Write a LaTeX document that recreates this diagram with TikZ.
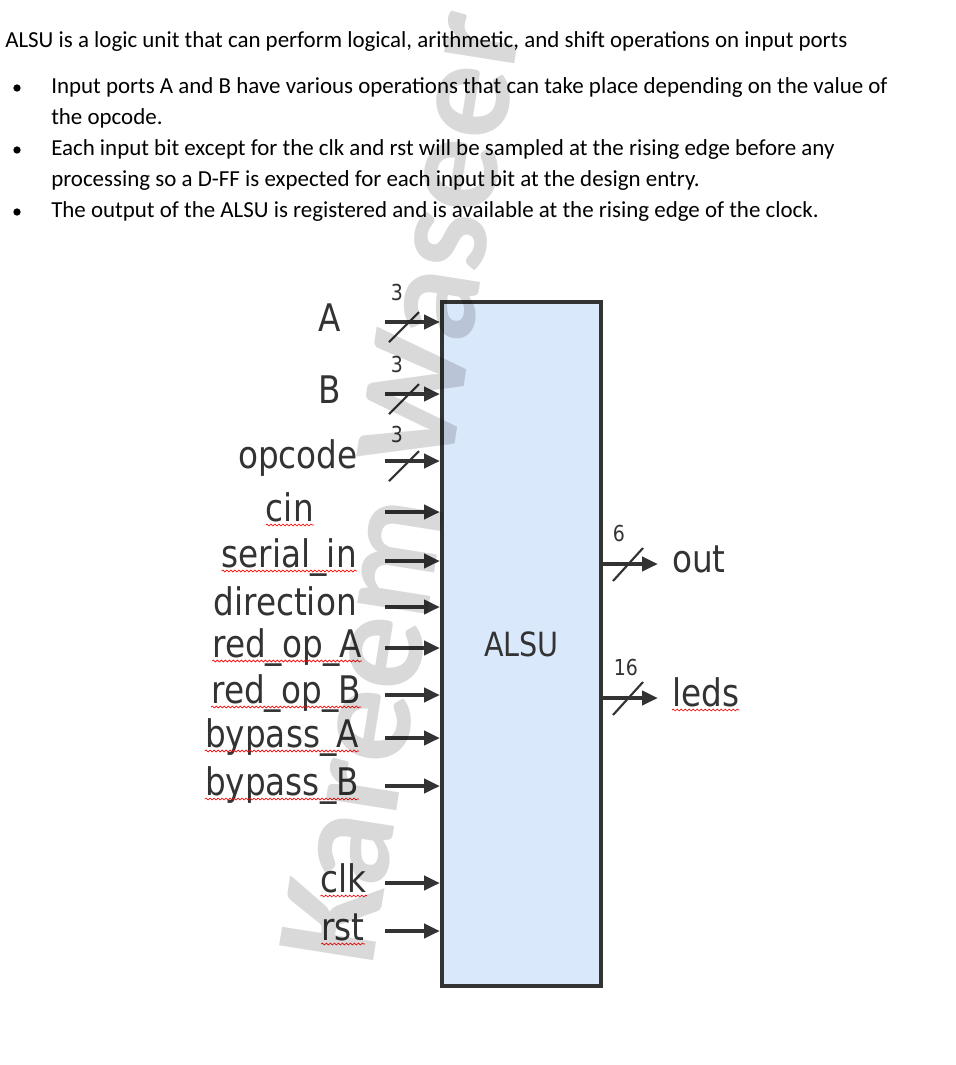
\documentclass[tikz,border=0pt]{standalone}
\usepackage{fontspec}
\setmainfont{Carlito}
\newfontfamily\diafont[FakeStretch=0.86]{DejaVu Sans}
\usetikzlibrary{positioning,calc,arrows.meta,decorations.pathmorphing}
\definecolor{boxblue}{HTML}{DAE8FC}
\definecolor{wire}{HTML}{333333}

\begin{document}
\begin{tikzpicture}[
    x=0.75pt, y=-0.75pt,
    txt/.style={font=\fontsize{17.2}{20}\selectfont, inner sep=0pt, anchor=base west},
    dot/.style={circle, fill=black, inner sep=0pt, minimum size=5.5pt},
    port/.style={font=\diafont\fontsize{28.5}{30}\selectfont, text=wire, inner sep=0pt, anchor=base east},
    buswd/.style={font=\diafont\fontsize{16.5}{18}\selectfont, text=wire, inner sep=0pt},
    sig/.style={-{Triangle[length=12pt, width=10.5pt]}, line width=3.2pt, draw=wire},
    bus/.style={line width=1.6pt, draw=wire},
    squig/.style={draw=red, line width=0.5pt, decorate, decoration={snake, amplitude=0.7pt, segment length=3pt}},
    wmtext/.style={font=\bfseries\fontsize{110}{110}\selectfont, text=black, text opacity=0.15, inner sep=0pt, anchor=base west, rotate=81}
]
\useasboundingbox (0,0) rectangle (956,1065);

% description
\node[txt] (intro) at (5,47) {ALSU is a logic unit that can perform logical, arithmetic, and shift operations on input ports};
\node[dot] (dot1) at (17,88) {};
\node[txt] (item1) at (51,93) {Input ports A and B have various operations that can take place depending on the value of};
\node[txt] (item1b) at (51,124) {the opcode.};
\node[dot] (dot2) at (17,150) {};
\node[txt] (item2) at (51,155) {Each input bit except for the clk and rst will be sampled at the rising edge before any};
\node[txt] (item2b) at (51,186) {processing so a D-FF is expected for each input bit at the design entry.};
\node[dot] (dot3) at (17,212) {};
\node[txt] (item3) at (51,217) {The output of the ALSU is registered and is available at the rising edge of the clock.};

% the block
\node[draw=wire, line width=3pt, fill=boxblue, minimum width=119.25pt, minimum height=513pt, inner sep=0pt,
      font=\diafont\fontsize{25}{26}\selectfont, text=wire] (alsu) at (521.5,644) {ALSU};

% bus inputs
\coordinate (inA) at (385,322);
\node[port] (lA) at (341,331) {A};
\draw[sig] (inA) -- (inA -| alsu.west);
\draw[bus] ($(inA)+(4,20)$) -- ($(inA)+(34,-10)$);
\node[buswd] (wA) at ($(inA)+(12,-30)$) {3};

\coordinate (inB) at (385,394);
\node[port] (lB) at (341,403) {B};
\draw[sig] (inB) -- (inB -| alsu.west);
\draw[bus] ($(inB)+(4,20)$) -- ($(inB)+(34,-10)$);
\node[buswd] (wB) at ($(inB)+(12,-30)$) {3};

\coordinate (inOp) at (385,461);
\node[port] (lOp) at (358,468) {opcode};
\draw[sig] (inOp) -- (inOp -| alsu.west);
\draw[bus] ($(inOp)+(4,20)$) -- ($(inOp)+(34,-10)$);
\node[buswd] (wOp) at ($(inOp)+(12,-27)$) {3};

% single bit inputs
\coordinate (inCin) at (385,512);
\node[port] (lCin) at (314,521) {cin};
\draw[sig] (inCin) -- (inCin -| alsu.west);

\coordinate (inSer) at (385,561);
\node[port] (lSer) at (357,567) {serial\_in};
\draw[sig] (inSer) -- (inSer -| alsu.west);

\coordinate (inDir) at (385,607);
\node[port] (lDir) at (357,615) {direction};
\draw[sig] (inDir) -- (inDir -| alsu.west);

\coordinate (inRedA) at (385,648);
\node[port] (lRedA) at (362,657) {red\_op\_A};
\draw[sig] (inRedA) -- (inRedA -| alsu.west);

\coordinate (inRedB) at (385,695);
\node[port] (lRedB) at (361,703) {red\_op\_B};
\draw[sig] (inRedB) -- (inRedB -| alsu.west);

\coordinate (inByA) at (385,738);
\node[port] (lByA) at (359,747) {bypass\_A};
\draw[sig] (inByA) -- (inByA -| alsu.west);

\coordinate (inByB) at (385,786);
\node[port] (lByB) at (359,795) {bypass\_B};
\draw[sig] (inByB) -- (inByB -| alsu.west);

\coordinate (inClk) at (385,883);
\node[port] (lClk) at (367,892) {clk};
\draw[sig] (inClk) -- (inClk -| alsu.west);

\coordinate (inRst) at (385,931);
\node[port] (lRst) at (365,940) {rst};
\draw[sig] (inRst) -- (inRst -| alsu.west);

% outputs
\coordinate (outTip) at (658,564);
\draw[sig] (outTip -| alsu.east) -- (outTip);
\draw[bus] ($(outTip)+(-45,17)$) -- ($(outTip)+(-15,-16)$);
\node[buswd] (wOut) at ($(outTip)+(-39,-31)$) {6};
\node[port, anchor=base west] (lOut) at (672,572) {out};

\coordinate (ledTip) at (658,698);
\draw[sig] (ledTip -| alsu.east) -- (ledTip);
\draw[bus] ($(ledTip)+(-45,17)$) -- ($(ledTip)+(-15,-16)$);
\node[buswd] (wLed) at ($(ledTip)+(-32,-31)$) {16};
\node[port, anchor=base west] (lLed) at (672,706) {leds};

% spell check marks
\draw[squig] ([yshift=-3pt]lCin.base west) -- ([yshift=-3pt]lCin.base east);
\draw[squig] ([yshift=-3pt]lSer.base west) -- ([yshift=-3pt]lSer.base east);
\draw[squig] ([yshift=-3pt]lRedA.base west) -- ([yshift=-3pt]lRedA.base east);
\draw[squig] ([yshift=-3pt]lRedB.base west) -- ([yshift=-3pt]lRedB.base east);
\draw[squig] ([yshift=-3pt]lByA.base west) -- ([yshift=-3pt]lByA.base east);
\draw[squig] ([yshift=-3pt]lByB.base west) -- ([yshift=-3pt]lByB.base east);
\draw[squig] ([yshift=-3pt]lClk.base west) -- ([yshift=-3pt]lClk.base east);
\draw[squig] ([yshift=-3pt]lRst.base west) -- ([yshift=-3pt]lRst.base east);
\draw[squig] ([yshift=-3pt]lLed.base west) -- ([yshift=-3pt]lLed.base east);

% watermark
\node[wmtext] (wm) at (372,968) {Kareem Waseer};
\end{tikzpicture}
\end{document}
